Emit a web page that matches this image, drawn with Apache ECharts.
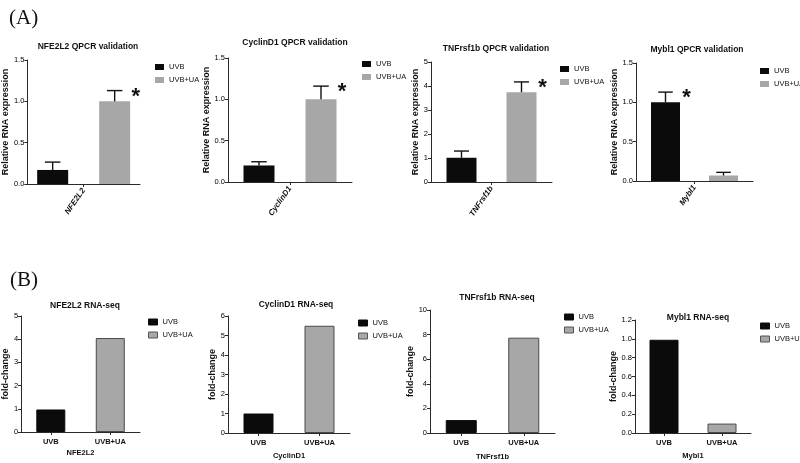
<!DOCTYPE html>
<html>
<head>
<meta charset="utf-8">
<script src="https://cdn.jsdelivr.net/npm/echarts@6/dist/echarts.min.js"></script>
<style>html,body{margin:0;padding:0;background:#fff;}#c{width:800px;height:463px;}</style>
</head>
<body>
<div id="c"></div>
<script>
// ---------- data ----------
const seriesNames = ['UVB', 'UVB+UA'];
// (A) QPCR validation
const qGenes = ['NFE2L2', 'CyclinD1', 'TNFrsf1b', 'Mybl1'];
const qUVB = [0.17, 0.20, 1.01, 1.00];
const qUVBUA = [1.00, 1.00, 3.74, 0.07];
const qUVBErrTop = [0.265, 0.245, 1.29, 1.13];
const qUVBUAErrTop = [1.13, 1.16, 4.17, 0.11];
const qSignificant = ['UVB+UA', 'UVB+UA', 'UVB+UA', 'UVB'];
const qYMax = [1.5, 1.5, 5, 1.5];
const qYInterval = [0.5, 0.5, 1, 0.5];
const qYDecimals = [1, 1, 0, 1];
// (B) RNA-seq
const rCategories = ['UVB', 'UVB+UA'];
const rUVB = [0.97, 1.00, 1.05, 0.99];
const rUVBUA = [4.05, 5.50, 7.75, 0.10];
const rYMax = [5, 6, 10, 1.2];
const rYInterval = [1, 1, 2, 0.2];
const rYDecimals = [0, 0, 0, 1];

// ---------- layout / style ----------
const FONT = "'Liberation Sans Narrow','Arial Narrow','Liberation Sans',Arial,sans-serif";
const SERIF = "'Liberation Serif','DejaVu Serif',serif";
const BLACK = '#0b0b0b';
const GRAY = '#a7a7a7';
const AXIS = '#2a2a2a';

const qLayout = [
  {grid: [22, 60, 118, 124], title: [83, 42], legend: [155, 63], nameGap: 13, bw: 31},
  {grid: [228, 58, 124, 124], title: [290, 38], legend: [362, 60], nameGap: 14, bw: 31},
  {grid: [431, 62, 121, 120], title: [491, 44], legend: [560, 65], nameGap: 9, bw: 30},
  {grid: [636, 63, 117, 118], title: [692, 45], legend: [760, 67], nameGap: 15, bw: 29}
];
const rLayout = [
  {grid: [20, 316, 120, 116], title: [80, 301], legend: [148, 318], nameGap: 10, xNameGap: 17, bw: 29},
  {grid: [228, 316, 122, 117], title: [291, 300], legend: [358, 319], nameGap: 9, xNameGap: 19, bw: 30},
  {grid: [430, 310, 125, 123], title: [492, 293], legend: [564, 313], nameGap: 11, xNameGap: 20, bw: 31},
  {grid: [635, 320, 116, 113], title: [693, 313], legend: [760, 322], nameGap: 10, xNameGap: 19, bw: 29}
];

const grids = [], xAxes = [], yAxes = [], titles = [], legends = [], series = [];

titles.push({text: '(A)', left: 4, top: 3, textStyle: {fontFamily: SERIF, fontSize: 21, fontWeight: 'normal', color: '#111'}});
titles.push({text: '(B)', left: 5, top: 265, textStyle: {fontFamily: SERIF, fontSize: 21, fontWeight: 'normal', color: '#111'}});

function yAxisFor(idx, max, interval, dec, name, gap) {
  return {
    type: 'value', gridIndex: idx, min: 0, max: max, interval: interval,
    name: name, nameLocation: 'middle', nameGap: gap,
    nameTextStyle: {fontFamily: FONT, fontWeight: 'bold', fontSize: 9, color: '#111'},
    axisLine: {show: true, lineStyle: {color: AXIS, width: 1}},
    axisTick: {show: true, length: 3, lineStyle: {color: AXIS}},
    axisLabel: {fontFamily: FONT, fontSize: 7.5, color: '#000', margin: 3,
      formatter: v => Number(v).toFixed(dec)},
    splitLine: {show: false}
  };
}
function legendFor(pos, bordered) {
  return {
    left: pos[0], top: pos[1], orient: 'vertical', padding: 0,
    itemWidth: 9, itemHeight: 6, itemGap: 5, icon: 'rect',
    textStyle: {fontFamily: FONT, fontSize: 7.5, color: '#111', padding: [0, 0, 0, 0]},
    data: [
      {name: seriesNames[0], itemStyle: {color: BLACK, borderColor: BLACK, borderWidth: bordered ? 1 : 0}},
      {name: seriesNames[1], itemStyle: {color: GRAY, borderColor: '#555', borderWidth: bordered ? 1 : 0}}
    ]
  };
}

// ---------- (A) QPCR panels ----------
qGenes.forEach((gene, i) => {
  const L = qLayout[i];
  const gi = grids.length;
  grids.push({left: L.grid[0], top: L.grid[1], width: L.grid[2], height: L.grid[3]});
  titles.push({text: gene + ' QPCR validation', left: L.title[0], top: L.title[1], textAlign: 'center', textVerticalAlign: 'middle',
    textStyle: {fontFamily: FONT, fontSize: 8.5, fontWeight: 'bold', color: '#111'}});
  legends.push(legendFor(L.legend, false));
  xAxes.push({
    type: 'category', gridIndex: gi, data: [gene],
    axisLine: {lineStyle: {color: AXIS, width: 1}},
    axisTick: {show: true, alignWithLabel: true, length: 3, lineStyle: {color: AXIS}},
    axisLabel: {rotate: 55, margin: 5, fontFamily: FONT, fontStyle: 'italic', fontWeight: 'bold', fontSize: 8, color: '#111'}
  });
  yAxes.push(yAxisFor(gi, qYMax[i], qYInterval[i], qYDecimals[i], 'Relative RNA expression', L.nameGap));
  series.push({name: seriesNames[0], type: 'bar', xAxisIndex: gi, yAxisIndex: gi, data: [qUVB[i]],
    barWidth: L.bw, barGap: '100%', itemStyle: {color: BLACK}});
  series.push({name: seriesNames[1], type: 'bar', xAxisIndex: gi, yAxisIndex: gi, data: [qUVBUA[i]],
    barWidth: L.bw, barGap: '100%', itemStyle: {color: GRAY}});
  // error bars + significance marks
  const errData = [
    [0, qUVB[i], qUVBErrTop[i], -1, qSignificant[i] === seriesNames[0] ? 1 : 0],
    [0, qUVBUA[i], qUVBUAErrTop[i], 1, qSignificant[i] === seriesNames[1] ? 1 : 0]
  ];
  series.push({
    type: 'custom', xAxisIndex: gi, yAxisIndex: gi, data: errData, z: 5, silent: true,
    encode: {x: 0, y: [1, 2]},
    renderItem: function (params, api) {
      const side = api.value(3);
      const base = api.coord([api.value(0), api.value(1)]);
      const top = api.coord([api.value(0), api.value(2)]);
      const cx = base[0] + side * L.bw;
      const cap = L.bw * 0.25;
      const children = [
        {type: 'line', shape: {x1: cx, y1: base[1], x2: cx, y2: top[1]}, style: {stroke: '#111', lineWidth: 1.4}},
        {type: 'line', shape: {x1: cx - cap, y1: top[1], x2: cx + cap, y2: top[1]}, style: {stroke: '#111', lineWidth: 1.4}}
      ];
      if (api.value(4)) {
        children.push({type: 'text', style: {text: '*', x: cx + 21, y: top[1] + 6, align: 'center', verticalAlign: 'middle',
          font: 'bold 22px ' + FONT, fill: '#111'}});
      }
      return {type: 'group', children: children};
    }
  });
});

// ---------- (B) RNA-seq panels ----------
qGenes.forEach((gene, i) => {
  const L = rLayout[i];
  const gi = grids.length;
  grids.push({left: L.grid[0], top: L.grid[1], width: L.grid[2], height: L.grid[3]});
  titles.push({text: gene + ' RNA-seq', left: L.title[0], top: L.title[1], textAlign: 'center', textVerticalAlign: 'middle',
    textStyle: {fontFamily: FONT, fontSize: 8.5, fontWeight: 'bold', color: '#111'}});
  legends.push(legendFor(L.legend, true));
  xAxes.push({
    type: 'category', gridIndex: gi, data: rCategories,
    name: gene, nameLocation: 'middle', nameGap: L.xNameGap,
    nameTextStyle: {fontFamily: FONT, fontWeight: 'bold', fontSize: 7.5, color: '#111', verticalAlign: 'top'},
    axisLine: {lineStyle: {color: AXIS, width: 1}},
    axisTick: {show: true, alignWithLabel: true, length: 3, lineStyle: {color: AXIS}},
    axisLabel: {margin: 6, fontFamily: FONT, fontWeight: 'bold', fontSize: 7.5, color: '#111'}
  });
  yAxes.push(yAxisFor(gi, rYMax[i], rYInterval[i], rYDecimals[i], 'fold-change', L.nameGap));
  series.push({name: seriesNames[0], type: 'bar', xAxisIndex: gi, yAxisIndex: gi, data: [rUVB[i], '-'],
    barWidth: L.bw, barGap: '-100%', itemStyle: {color: BLACK, borderColor: BLACK, borderWidth: 1}});
  series.push({name: seriesNames[1], type: 'bar', xAxisIndex: gi, yAxisIndex: gi, data: ['-', rUVBUA[i]],
    barWidth: L.bw, barGap: '-100%', itemStyle: {color: GRAY, borderColor: '#4a4a4a', borderWidth: 1}});
});

const chart = echarts.init(document.getElementById('c'), null, {renderer: 'canvas'});
chart.setOption({
  backgroundColor: '#fff',
  animation: false,
  title: titles,
  legend: legends,
  grid: grids,
  xAxis: xAxes,
  yAxis: yAxes,
  series: series
});
</script>
</body>
</html>
